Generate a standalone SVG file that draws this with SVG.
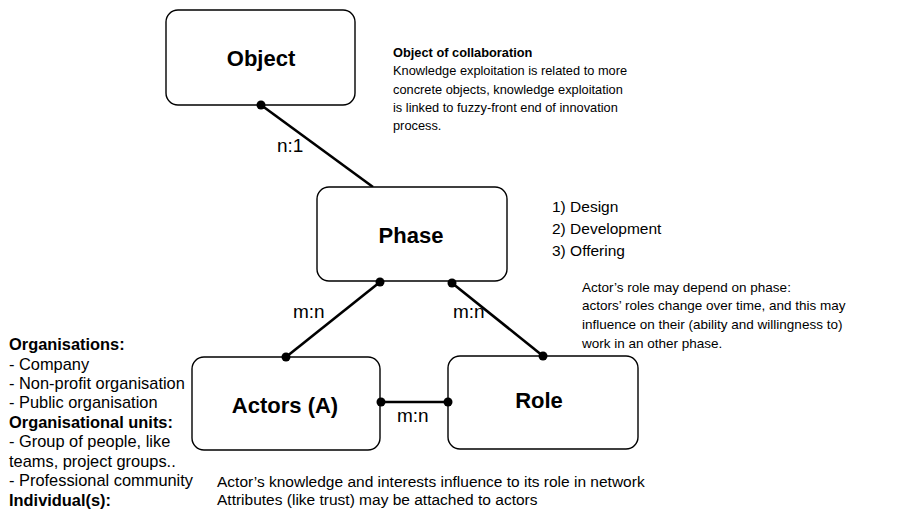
<svg xmlns="http://www.w3.org/2000/svg" width="905" height="511" viewBox="0 0 905 511">
<style>
text{font-family:"Liberation Sans",Arial,sans-serif;fill:#000}
.box{fill:#fff;stroke:#000;stroke-width:1.4}
.title{font-size:22px;font-weight:bold;text-anchor:middle}
.lbl{font-size:19px}
.note{font-size:12.8px}
.left{font-size:16.4px}
.b{font-weight:bold}
.con line{stroke:#000;stroke-width:2.6}
.con circle{fill:#000}
</style>
<rect width="905" height="511" fill="#fff"/>
<g id="connectors" class="con">
<line x1="261" y1="105" x2="373" y2="187"/>
<line x1="380" y1="282" x2="286" y2="357"/>
<line x1="452" y1="283" x2="543" y2="356"/>
<line x1="381" y1="402" x2="448" y2="402"/>
</g>
<g id="object"><rect class="box" x="166" y="10" width="189" height="95" rx="12"/><text class="title" x="261" y="66">Object</text></g>
<g id="phase"><rect class="box" x="317" y="187" width="190" height="94" rx="12"/><text class="title" x="411" y="243">Phase</text></g>
<g id="actors"><rect class="box" x="192" y="357" width="188" height="93" rx="12"/><text class="title" x="285" y="413">Actors (A)</text></g>
<g id="role"><rect class="box" x="448" y="356" width="190" height="93" rx="12"/><text class="title" x="539" y="408">Role</text></g>
<g id="dots" class="con">
<circle cx="261" cy="105" r="4.5"/>
<circle cx="380" cy="282" r="4.5"/>
<circle cx="286" cy="357" r="4.5"/>
<circle cx="452" cy="283" r="4.5"/>
<circle cx="543" cy="356" r="4.5"/>
<circle cx="381" cy="402" r="4.5"/>
<circle cx="448" cy="402" r="4.5"/>
</g>
<g id="labels">
<text class="lbl" x="277" y="152">n:1</text>
<text class="lbl" x="293" y="318">m:n</text>
<text class="lbl" x="453" y="318">m:n</text>
<text class="lbl" x="397" y="422">m:n</text>
</g>
<g id="object-note" class="note">
<text x="393" y="57" class="b">Object of collaboration</text>
<text x="393" y="75">Knowledge exploitation is related to more</text>
<text x="393" y="94">concrete objects, knowledge exploitation</text>
<text x="393" y="112">is linked to fuzzy-front end of innovation</text>
<text x="393" y="130">process.</text>
</g>
<g id="phase-list" style="font-size:15.5px">
<text x="552" y="212">1) Design</text>
<text x="552" y="234">2) Development</text>
<text x="552" y="256">3) Offering</text>
</g>
<g id="role-note" style="font-size:13.5px">
<text x="582" y="292">Actor’s role may depend on phase:</text>
<text x="582" y="310">actors’ roles change over time, and this may</text>
<text x="582" y="329">influence on their (ability and willingness to)</text>
<text x="582" y="348">work in an other phase.</text>
</g>
<g id="actor-types" class="left">
<text x="9" y="350" class="b">Organisations:</text>
<text x="9" y="370">- Company</text>
<text x="9" y="389">- Non-profit organisation</text>
<text x="9" y="408">- Public organisation</text>
<text x="9" y="428" class="b">Organisational units:</text>
<text x="9" y="447">- Group of people, like</text>
<text x="9" y="467">teams, project groups..</text>
<text x="9" y="486">- Professional community</text>
<text x="9" y="506" class="b">Individual(s):</text>
</g>
<g id="bottom-note" style="font-size:15.5px">
<text x="217" y="487">Actor’s knowledge and interests influence to its role in network</text>
<text x="217" y="505">Attributes (like trust) may be attached to actors</text>
</g>
</svg>
